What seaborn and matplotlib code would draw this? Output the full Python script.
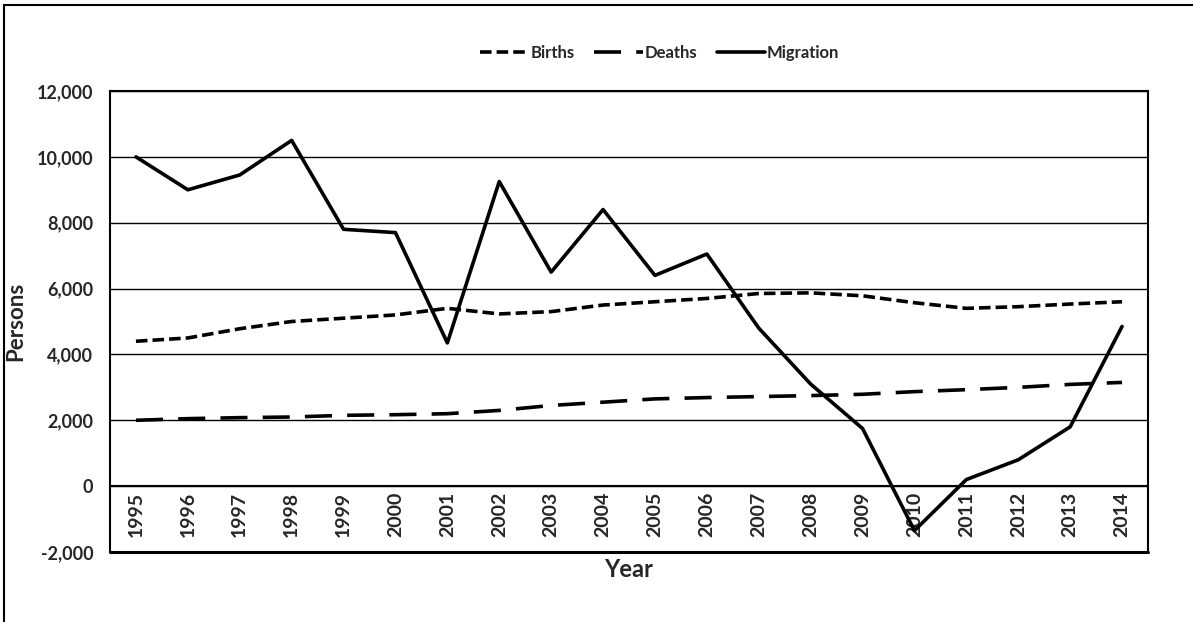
import pandas as pd
import matplotlib.pyplot as plt
import seaborn as sns
from matplotlib.lines import Line2D
from matplotlib.ticker import FuncFormatter

years = list(range(1995, 2015))
births = [4400, 4500, 4780, 5000, 5100, 5200, 5400, 5230, 5300, 5500,
          5600, 5700, 5850, 5870, 5780, 5570, 5400, 5450, 5530, 5600]
deaths = [2000, 2050, 2080, 2100, 2150, 2170, 2200, 2300, 2450, 2550,
          2650, 2690, 2720, 2750, 2790, 2870, 2930, 3000, 3090, 3150]
migration = [10000, 9000, 9450, 10500, 7800, 7700, 4350, 9250, 6500, 8400,
             6400, 7050, 4800, 3100, 1750, -1350, 200, 800, 1800, 4850]

df = pd.concat([
    pd.DataFrame({'Year': years, 'Persons': births, 'series': 'Births'}),
    pd.DataFrame({'Year': years, 'Persons': deaths, 'series': 'Deaths'}),
    pd.DataFrame({'Year': years, 'Persons': migration, 'series': 'Migration'}),
])

sns.set_style('white')
plt.rcParams['font.family'] = ['Lato', 'DejaVu Sans']
plt.rcParams['font.weight'] = 'bold'

fig = plt.figure(figsize=(11.93, 6.22), dpi=100)
ax = fig.add_axes([110 / 1193, 1 - 552 / 622, 1038 / 1193, 461 / 622])

sns.lineplot(data=df, x='Year', y='Persons', hue='series', style='series',
             palette={'Births': 'black', 'Deaths': 'black', 'Migration': 'black'},
             dashes={'Births': (3.2, 1.4), 'Deaths': (7.5, 4.2), 'Migration': ''},
             linewidth=2.6, ax=ax)

ax.set_xlim(1994.5, 2014.5)
ax.set_ylim(-2000, 12000)
ax.set_yticks(range(-2000, 12001, 2000))
ax.yaxis.set_major_formatter(FuncFormatter(lambda v, p: f'{int(v):,}'))
ax.set_xticks(years)
ax.set_xticklabels([str(y) for y in years])
ax.tick_params(axis='y', length=0, pad=12, labelsize=13)
ax.tick_params(axis='x', length=0, pad=4, labelsize=14, labelrotation=90)

ax.grid(axis='y', color='black', linewidth=1.0)
ax.set_axisbelow(True)

# category axis crosses at zero, like the spreadsheet chart
ax.spines['bottom'].set_position(('data', 0))
for s in ax.spines.values():
    s.set_color('black')
    s.set_linewidth(1.5)
ax.axhline(-2000, color='black', linewidth=2.2, clip_on=False)

ax.set_ylabel('Persons', fontsize=16, fontweight='bold')
ax.yaxis.set_label_coords(-0.081, 0.5)
ax.set_xlabel('Year', fontsize=17, fontweight='bold')
ax.xaxis.label.set_va('center')
ax.xaxis.set_label_coords(0.5, -0.039, transform=ax.transAxes)

sns.move_legend(ax, 'center', bbox_to_anchor=(0.553, 0.915),
                bbox_transform=fig.transFigure, ncol=3, frameon=False, title=None,
                fontsize=12, handlelength=2.9, handletextpad=0.1, columnspacing=1.2)

# chart-area border (left and top visible in the scan)
fig.add_artist(Line2D([4 / 1193, 4 / 1193], [0, 1 - 5 / 622], color='black',
                      linewidth=1.5, transform=fig.transFigure))
fig.add_artist(Line2D([4 / 1193, 1], [1 - 5 / 622, 1 - 5 / 622], color='black',
                      linewidth=1.5, transform=fig.transFigure))

fig.savefig('out.png', dpi=100)
